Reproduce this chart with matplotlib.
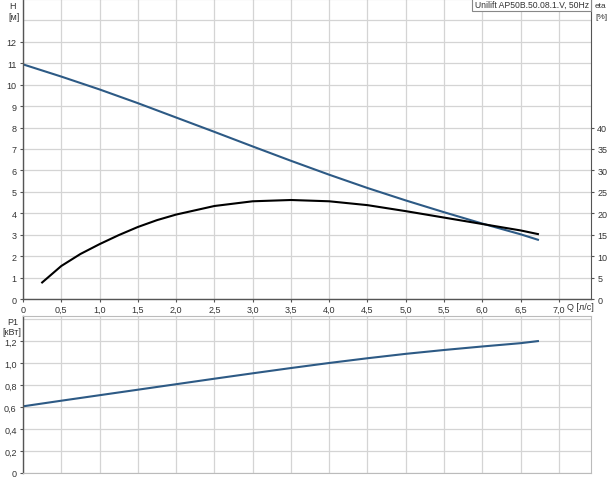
import numpy as np
import matplotlib
matplotlib.use("Agg")
import matplotlib.pyplot as plt

plt.rcParams['font.family'] = ['Liberation Sans', 'DejaVu Sans']

# pump curve values
q_h = [0.0, 0.5, 1.0, 1.5, 2.0, 2.5, 3.0, 3.5, 4.0, 4.5, 5.0, 5.5, 6.0, 6.5, 6.74]
head = [10.95, 10.38, 9.78, 9.14, 8.47, 7.8, 7.12, 6.45, 5.8, 5.18, 4.6, 4.05, 3.52, 3.02, 2.75]

q_eta = [0.24, 0.5, 0.75, 1.0, 1.25, 1.5, 1.75, 2.0, 2.5, 3.0, 3.5, 4.0, 4.5,
         5.0, 5.5, 6.0, 6.5, 6.74]
eta = [3.7, 7.7, 10.5, 12.8, 14.9, 16.8, 18.4, 19.7, 21.7, 22.8, 23.1, 22.8, 21.9,
       20.5, 19.0, 17.5, 16.0, 15.1]

q_p = [0.0, 0.5, 1.0, 1.5, 2.0, 2.5, 3.0, 3.5, 4.0, 4.5, 5.0, 5.5, 6.0, 6.5, 6.74]
power = [0.606, 0.657, 0.707, 0.757, 0.807, 0.857, 0.906, 0.954, 1.0, 1.043, 1.083, 1.118, 1.15, 1.18, 1.2]

x_ticks = [0, 0.5, 1.0, 1.5, 2.0, 2.5, 3.0, 3.5, 4.0, 4.5, 5.0, 5.5, 6.0, 6.5, 7.0]
x_labels = ['0', '0,5', '1,0', '1,5', '2,0', '2,5', '3,0', '3,5', '4,0', '4,5',
            '5,0', '5,5', '6,0', '6,5', '7,0']
h_ticks = list(range(0, 13))
eta_ticks = list(range(0, 45, 5))
p_ticks = [0, 0.2, 0.4, 0.6, 0.8, 1.0, 1.2]
p_labels = ['0', '0,2', '0,4', '0,6', '0,8', '1,0', '1,2']

title = 'Unilift AP50B.50.08.1.V, 50Hz'

blue = '#2d5a85'
grid_c = '#d4d4d4'
spine_c = '#555555'
txt_c = '#333333'
fs = 6.5


def style_axes(ax):
    ax.grid(True, which='both', color=grid_c, lw=0.9)
    ax.set_axisbelow(True)
    for s in ['top', 'right', 'bottom']:
        ax.spines[s].set_color('#bbbbbb')
        ax.spines[s].set_linewidth(0.8)
    ax.spines['left'].set_color(spine_c)
    ax.spines['left'].set_linewidth(1.0)
    ax.tick_params(axis='both', which='major', labelsize=fs, colors=spine_c,
                   labelcolor=txt_c, length=2.5, width=0.8, pad=2)
    ax.tick_params(axis='both', which='minor', length=0)


fig = plt.figure(figsize=(6.09, 4.81), dpi=100)

# top panel: head and efficiency
ax1 = fig.add_axes([23 / 609, 1 - 300 / 481, 568 / 609, 300 / 481])
style_axes(ax1)
ax1.spines['bottom'].set_color(spine_c)
ax1.spines['bottom'].set_linewidth(1.0)
ax1.spines['right'].set_color(spine_c)
ax1.set_xlim(0, 7.42)
ax1.set_ylim(0, 14)
ax1.set_xticks(x_ticks)
ax1.set_xticklabels(x_labels)
ax1.set_yticks(h_ticks)
ax1.set_yticks([13], minor=True)
ax1.plot(q_h, head, color=blue, lw=1.5, solid_capstyle='butt')

ax2 = ax1.twinx()
ax2.set_ylim(0, 70)
ax2.set_yticks(eta_ticks)
ax2.tick_params(axis='y', labelsize=fs, colors=spine_c, labelcolor=txt_c,
                length=2.5, width=0.8, pad=2)
for s in ax2.spines.values():
    s.set_visible(False)
ax2.plot(q_eta, eta, color='black', lw=1.5, solid_capstyle='butt')

ax1.text(-0.018, 0.978, 'H', transform=ax1.transAxes, fontsize=fs,
         color=txt_c, ha='center', va='center')
ax1.text(-0.015, 0.943, '[м]', transform=ax1.transAxes, fontsize=fs,
         color=txt_c, ha='center', va='center')
ax1.text(1.007, 0.978, 'eta', transform=ax1.transAxes, fontsize=6,
         color=txt_c, ha='left', va='center')
ax1.text(1.008, 0.943, '[%]', transform=ax1.transAxes, fontsize=6,
         color=txt_c, ha='left', va='center')
ax1.annotate('Q [л/с]', xy=(7.0, 0), xycoords=('data', 'axes fraction'),
             xytext=(6, -2.5), textcoords='offset points', fontsize=fs,
             color=txt_c, ha='left', va='top')
ax1.text(0.996, 0.997, title, transform=ax1.transAxes, fontsize=6.2,
         color=txt_c, ha='right', va='top', zorder=5,
         bbox=dict(boxstyle='square,pad=0.25', fc='white', ec='#888888', lw=0.8))

# bottom panel: power input
ax3 = fig.add_axes([23 / 609, 1 - 474 / 481, 568 / 609, 157 / 481])
style_axes(ax3)
ax3.set_xlim(0, 7.42)
ax3.set_ylim(0, 1.427)
ax3.set_xticks(x_ticks)
ax3.tick_params(axis='x', labelbottom=False, length=0)
ax3.set_yticks(p_ticks)
ax3.set_yticklabels(p_labels)
ax3.set_yticks([1.4], minor=True)
ax3.plot(q_p, power, color=blue, lw=1.5, solid_capstyle='butt')
ax3.text(-0.018, 0.965, 'P1', transform=ax3.transAxes, fontsize=fs,
         color=txt_c, ha='center', va='center')
ax3.text(-0.02, 0.9, '[кВт]', transform=ax3.transAxes, fontsize=fs,
         color=txt_c, ha='center', va='center')

fig.savefig('out.png', dpi=100)
